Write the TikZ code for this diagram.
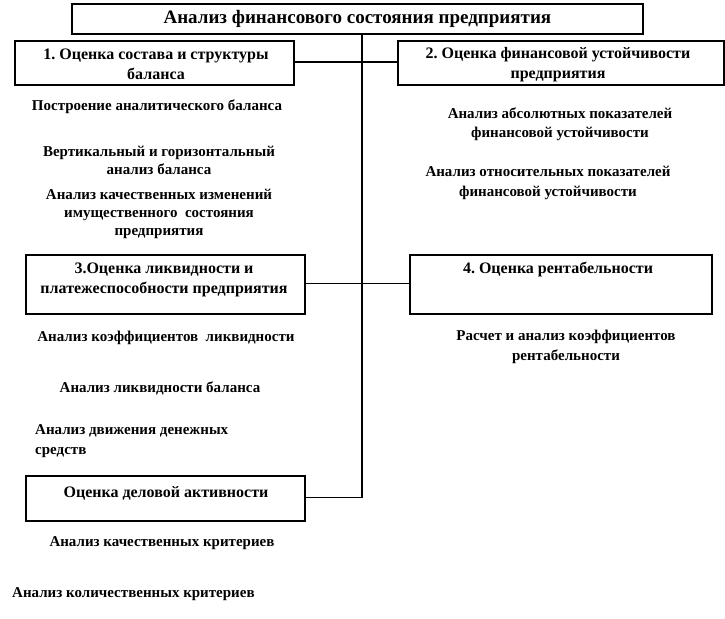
\documentclass[tikz,border=0pt]{standalone}
\usepackage{fontspec}
\setmainfont{Liberation Serif}
\frenchspacing
\begin{document}
\begin{tikzpicture}[x=1pt,y=-1pt,
  box/.style={draw,line width=1.8pt,inner sep=0pt},
  lbl/.style={font=\bfseries\fontsize{15}{19}\selectfont,align=center,inner sep=0pt},
  blbl/.style={font=\bfseries\fontsize{16}{19.5}\selectfont,align=center,inner sep=0pt},
  conn/.style={line width=1.5pt}]
\useasboundingbox (0,0) rectangle (725,618);
% boxes
\node[box,minimum width=571,minimum height=30,anchor=north west,font=\bfseries\fontsize{19}{22}\selectfont] (top) at (71,3) {Анализ финансового состояния предприятия};
\node[box,minimum width=279,minimum height=44,anchor=north west] (b1) at (14,40) {};
\node[blbl] (l1) at (156,64.5) {1. Оценка состава и структуры\\баланса};
\node[box,minimum width=326,minimum height=44,anchor=north west] (b2) at (397,40) {};
\node[blbl] (l2) at (558,64.5) {2. Оценка финансовой устойчивости\\предприятия};
\node[box,minimum width=279,minimum height=59,anchor=north west] (b3) at (25,254) {};
\node[blbl] (l3) at (164,280) {3.Оценка ликвидности и\\платежеспособности предприятия};
\node[box,minimum width=302,minimum height=59,anchor=north west] (b4) at (409,254) {};
\node[blbl] (l4) at (558,269) {4. Оценка рентабельности};
\node[box,minimum width=279,minimum height=45,anchor=north west] (b5) at (25,475) {};
\node[blbl] (l5) at (166,493) {Оценка деловой активности};
% connectors
\coordinate (vb) at (362,497.5);
\draw[conn] (top.south -| vb) -- (vb) -- (b5.east |- vb);
\draw[conn] (b1.east |- 0,62) -- (b2.west |- 0,62);
\draw[conn] (b3.east |- 0,283.5) -- (b4.west |- 0,283.5);
% texts
\node[lbl] (t1) at (157,107) {Построение аналитического баланса};
\node[lbl,font=\bfseries\fontsize{15}{18}\selectfont] (t2) at (159,160) {Вертикальный и горизонтальный\\анализ баланса};
\node[lbl,font=\bfseries\fontsize{15}{18.3}\selectfont] (t3) at (159,214) {Анализ качественных изменений\\имущественного~~состояния\\предприятия};
\node[lbl] (t4) at (560,124) {Анализ абсолютных показателей\\финансовой устойчивости};
\node[lbl,font=\bfseries\fontsize{15}{20}\selectfont] (t5) at (548,183) {Анализ относительных показателей\\финансовой устойчивости};
\node[lbl] (t6) at (166,338) {Анализ коэффициентов~~ликвидности};
\node[lbl] (t7) at (160,388) {Анализ ликвидности баланса};
\node[lbl,align=left,anchor=west,font=\bfseries\fontsize{15}{20}\selectfont] (t8) at (35,441) {Анализ движения денежных\\средств};
\node[lbl,font=\bfseries\fontsize{15}{20}\selectfont] (t9) at (566,347) {Расчет и анализ коэффициентов\\рентабельности};
\node[lbl] (t10) at (162,543) {Анализ качественных критериев};
\node[lbl,anchor=west] (t11) at (12,594) {Анализ количественных критериев};
\end{tikzpicture}
\end{document}
